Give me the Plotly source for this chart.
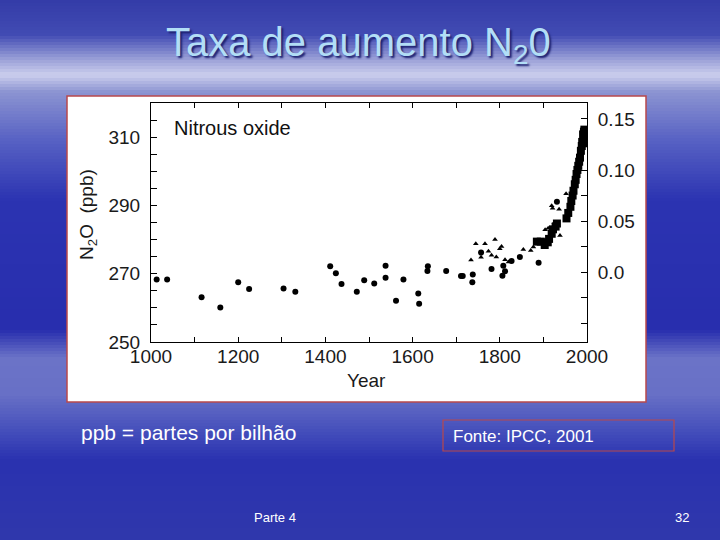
import plotly.graph_objects as go
import numpy as np

# ice core data (circles)
circle_year = [1013, 1037, 1116, 1159, 1200, 1225, 1304, 1331, 1411, 1424, 1437, 1472,
               1489, 1512, 1538, 1538, 1562, 1579, 1613, 1615, 1635, 1634, 1677, 1711,
               1715, 1737, 1738, 1757, 1781, 1806, 1808, 1812, 1827, 1846, 1889, 1931]
circle_ppb = [268.3, 268.3, 263.1, 260.1, 267.5, 265.5, 265.7, 264.7, 272.2, 270.1, 267.0, 264.7,
              268.1, 267.1, 272.3, 268.8, 262.1, 268.3, 264.2, 261.2, 272.2, 270.8, 270.8, 269.3,
              269.3, 267.5, 269.8, 276.2, 271.4, 269.4, 272.3, 270.7, 273.7, 274.9, 273.2, 291.1]

# second ice core record (triangles)
tri_year = [1734, 1745, 1757, 1766, 1774, 1781, 1789, 1792, 1800, 1804, 1812, 1820,
            1854, 1871, 1877, 1888, 1904, 1911, 1919, 1921, 1925, 1936, 1938, 1952]
tri_ppb = [274.0, 278.8, 274.8, 278.8, 276.6, 275.4, 280.0, 274.9, 277.3, 278.0, 274.1, 273.4,
           277.1, 276.8, 277.8, 279.2, 282.9, 283.3, 289.9, 289.2, 284.9, 288.9, 281.2, 293.4]

# firn / atmospheric data (squares)
sq_year = [1885, 1894, 1903, 1910, 1913, 1919, 1922, 1928, 1931, 1953, 1957, 1962, 1964,
           1967, 1969, 1972, 1974, 1976, 1978, 1980, 1982, 1984, 1986, 1988, 1989, 1991,
           1993, 1994, 1995, 1996, 1997]
sq_ppb = [279.4, 279.4, 278.4, 279.2, 280.2, 281.7, 283.0, 283.8, 284.7, 286.2, 287.8, 289.6, 291.3,
          292.9, 294.3, 296.2, 297.5, 299.2, 300.4, 301.6, 302.8, 304.0, 306.0, 307.4, 308.6, 310.8,
          311.6, 312.2, 309.6, 310.4, 308.2]

# radiative forcing axis (W/m2)
forcing_vals = [0.0, 0.05, 0.10, 0.15]
forcing_text = ['0.0', '0.05', '0.10', '0.15']
forcing_minor = [-0.05, -0.025, 0.025, 0.075, 0.125]

W, H = 720, 540
FONT = 'Liberation Sans, Arial, sans-serif'

def px(x):
    return x / W

def py(y):
    return 1 - y / H

fig = go.Figure()

fig.add_trace(go.Scatter(x=circle_year, y=circle_ppb, mode='markers',
                         marker=dict(symbol='circle', size=6, color='black')))
fig.add_trace(go.Scatter(x=tri_year, y=tri_ppb, mode='markers',
                         marker=dict(symbol='triangle-up', size=5, color='black')))
fig.add_trace(go.Scatter(x=sq_year, y=sq_ppb, mode='markers',
                         marker=dict(symbol='square', size=8, color='black')))
# dummy trace to activate right axis
fig.add_trace(go.Scatter(x=[None], y=[None], yaxis='y2', showlegend=False))

# slide background, vertical colour bands
stops = [(0, (52, 60, 168)), (35, (66, 76, 180)), (58, (150, 156, 214)), (75, (204, 207, 238)),
         (92, (140, 148, 210)), (140, (88, 98, 196)), (200, (44, 52, 178)), (330, (40, 46, 174)),
         (358, (108, 116, 200)), (395, (104, 112, 198)), (430, (70, 80, 188)), (460, (42, 50, 176)),
         (540, (48, 56, 172))]
shapes = []
ys = [s[0] for s in stops]
for y0 in range(0, H, 3):
    c = [int(np.interp(y0 + 1.5, ys, [s[1][k] for s in stops])) for k in range(3)]
    shapes.append(dict(type='rect', xref='paper', yref='paper', x0=0, x1=1,
                       y0=py(y0 + 3), y1=py(y0), line=dict(width=0),
                       fillcolor='rgb(%d,%d,%d)' % tuple(c), layer='below'))

# white picture frame
shapes.append(dict(type='rect', xref='paper', yref='paper', x0=px(67), x1=px(646),
                   y0=py(402), y1=py(96), fillcolor='white',
                   line=dict(color='#b8484c', width=1.5), layer='below'))
# source box
shapes.append(dict(type='rect', xref='paper', yref='paper', x0=px(443), x1=px(674),
                   y0=py(451), y1=py(420), fillcolor='rgba(0,0,0,0)',
                   line=dict(color='#b8484c', width=1.2)))

fig.update_layout(
    width=W, height=H,
    margin=dict(l=0, r=0, t=0, b=0, pad=0, autoexpand=False),
    paper_bgcolor='#3a44b0',
    plot_bgcolor='white',
    showlegend=False,
    shapes=shapes,
    font=dict(family=FONT, color='#1a1a1a', size=19),
    xaxis=dict(domain=[px(151), px(587)], range=[1000, 2000], automargin=False,
               tickmode='array', tickvals=list(range(1000, 2001, 200)),
               ticks='inside', ticklen=5, tickcolor='black',
               minor=dict(tickvals=list(range(1100, 2000, 200)), ticks='inside', ticklen=5, tickcolor='black'),
               showline=True, linecolor='black', linewidth=1, mirror='ticks',
               showgrid=False, zeroline=False, ticklabelstandoff=-3,
               tickfont=dict(size=19, color='#1a1a1a')),
    yaxis=dict(domain=[py(342), py(103)], range=[250, 320], automargin=False,
               tickmode='array', tickvals=[250, 270, 290, 310],
               ticks='inside', ticklen=6, tickcolor='black',
               minor=dict(tickvals=[v for v in range(255, 320, 5) if v not in (270, 290, 310)],
                          ticks='inside', ticklen=6, tickcolor='black'),
               showline=True, linecolor='black', linewidth=1,
               showgrid=False, zeroline=False, ticklabelstandoff=6,
               tickfont=dict(size=19, color='#1a1a1a')),
    yaxis2=dict(overlaying='y', side='right', anchor='x', range=[-0.0684, 0.1656], automargin=False,
                tickmode='array', tickvals=forcing_vals, ticktext=forcing_text,
                ticks='inside', ticklen=6, tickcolor='black',
                minor=dict(tickvals=forcing_minor, ticks='inside', ticklen=6, tickcolor='black'),
                showline=True, linecolor='black', linewidth=1,
                showgrid=False, zeroline=False, ticklabelstandoff=6,
                tickfont=dict(size=19, color='#1a1a1a')),
)

ann = [
    dict(text='Taxa de aumento N<sub>2</sub>0', x=px(358), y=py(45), xanchor='center', yanchor='middle',
         font=dict(size=40, color='#b2def6', family=FONT, shadow='2px 2px 2px #1c2070')),
    dict(text='Nitrous oxide', x=px(172), y=py(128), xanchor='left', yanchor='middle',
         font=dict(size=20, color='#111111', family=FONT)),
    dict(text='Year', x=px(366), y=py(380), xanchor='center', yanchor='middle',
         font=dict(size=19, color='#1a1a1a', family=FONT)),
    dict(text='N<sub>2</sub>O  (ppb)', x=px(88), y=py(215), xanchor='center', yanchor='middle',
         textangle=-90, font=dict(size=19, color='#1a1a1a', family=FONT)),
    dict(text='ppb = partes por bilhão', x=px(79), y=py(432), xanchor='left', yanchor='middle',
         font=dict(size=21, color='white', family=FONT)),
    dict(text='Fonte: IPCC, 2001', x=px(451), y=py(436), xanchor='left', yanchor='middle',
         font=dict(size=17, color='white', family=FONT)),
    dict(text='Parte 4', x=px(275), y=py(517), xanchor='center', yanchor='middle',
         font=dict(size=13, color='white', family=FONT)),
    dict(text='32', x=px(682), y=py(517), xanchor='center', yanchor='middle',
         font=dict(size=13, color='white', family=FONT)),
]
for a in ann:
    a.update(xref='paper', yref='paper', showarrow=False)
fig.update_layout(annotations=ann)

# drop the default page margin so the slide fills the window
fig.write_html("out.html", config={'displayModeBar': False},
               post_script="document.body.style.margin='0';")
